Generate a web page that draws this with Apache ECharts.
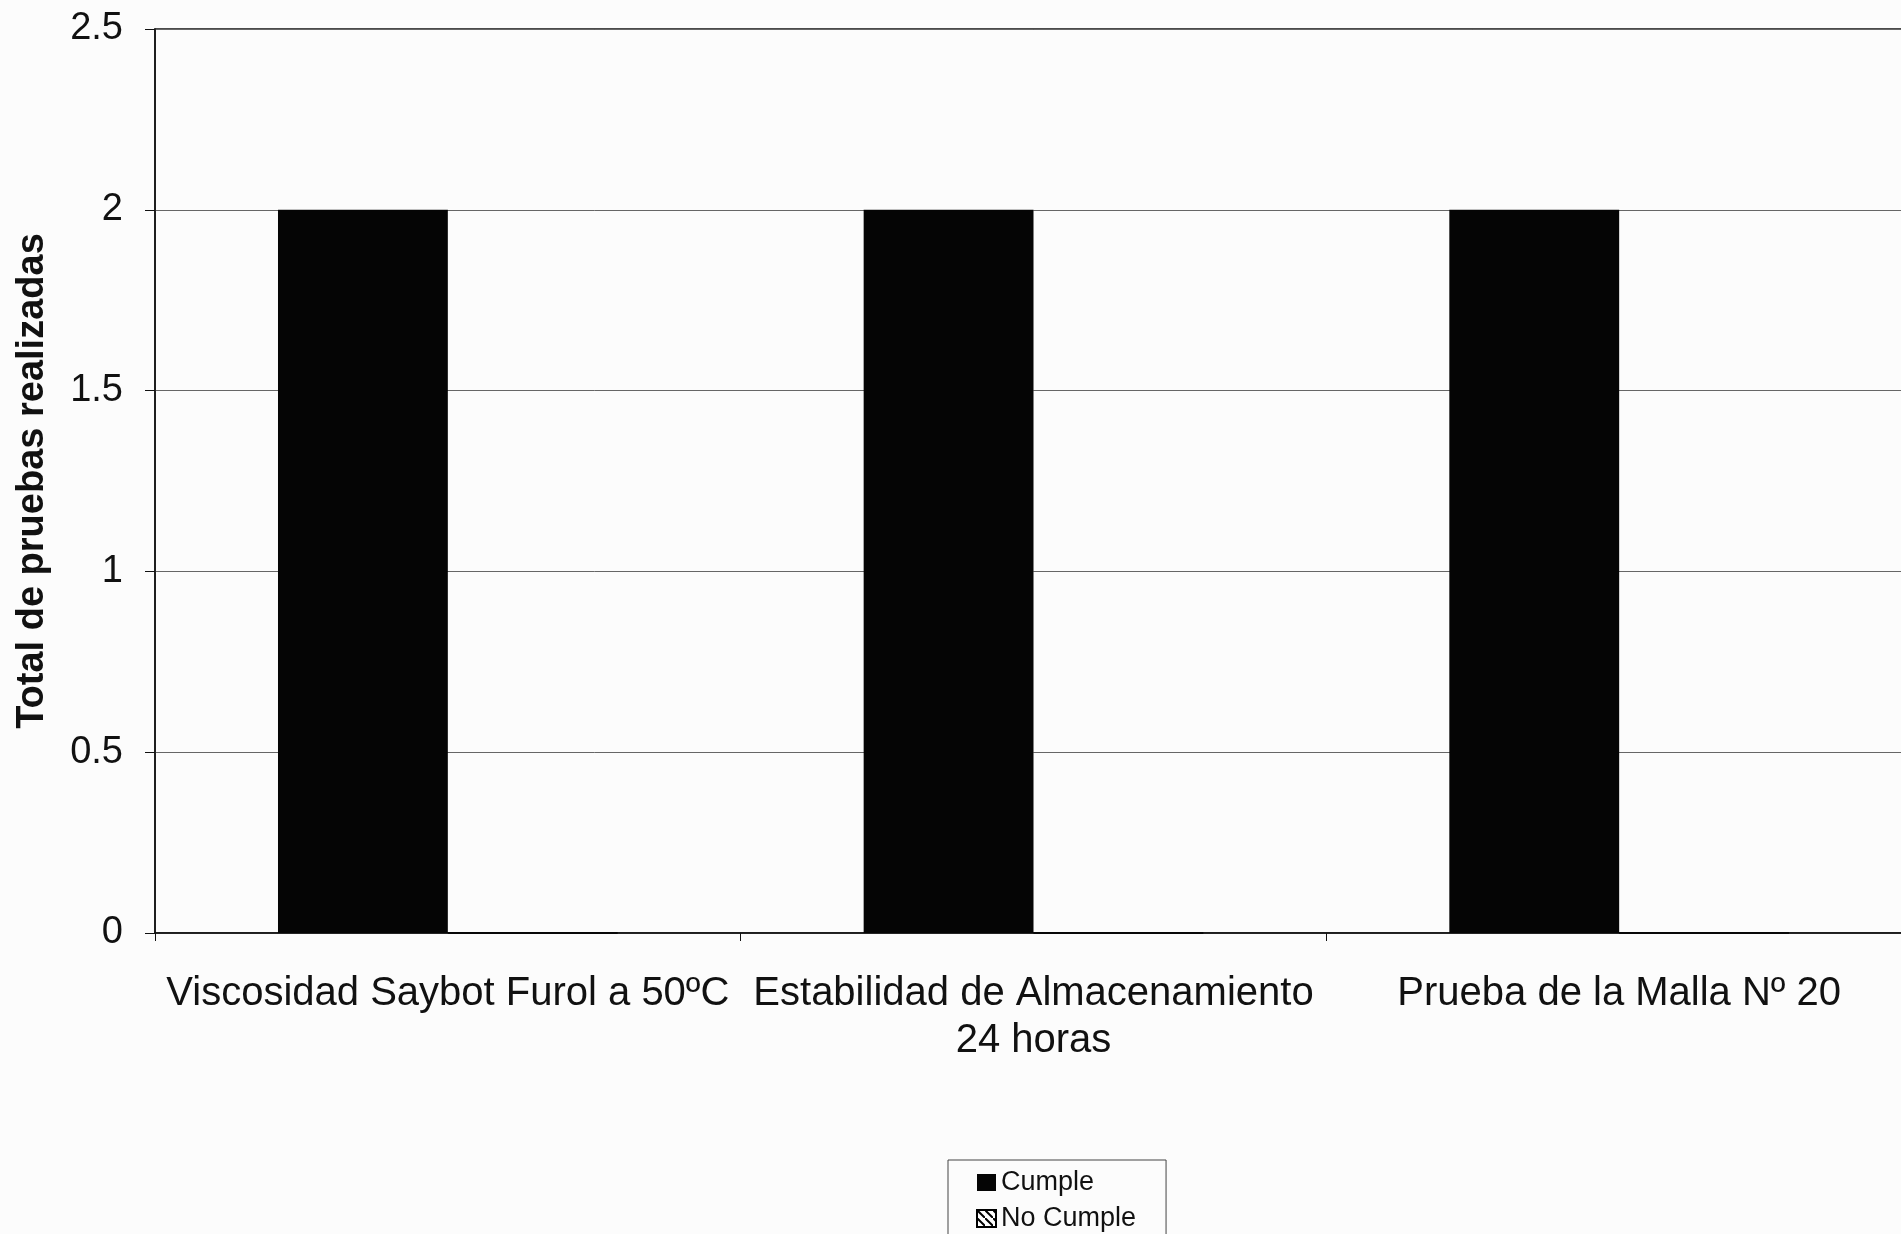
<!DOCTYPE html>
<html>
<head>
<meta charset="utf-8">
<script src="https://cdn.jsdelivr.net/npm/echarts@6/dist/echarts.min.js"></script>
<style>
html,body{margin:0;padding:0;background:#fcfcfc;overflow:hidden;}
#chart{width:1930px;height:1234px;}
</style>
</head>
<body>
<div id="chart"></div>
<script>
const categories = ['Viscosidad Saybot Furol a 50ºC', 'Estabilidad de Almacenamiento\n24 horas', 'Prueba de la Malla Nº 20'];
const cumple = [2, 2, 2];
const noCumple = [0, 0, 0];
const yTicks = [0, 0.5, 1, 1.5, 2, 2.5];

function hatch() {
  const c = document.createElement('canvas');
  c.width = 8; c.height = 8;
  const g = c.getContext('2d');
  g.fillStyle = '#fff'; g.fillRect(0, 0, 8, 8);
  g.strokeStyle = '#000'; g.lineWidth = 2;
  g.beginPath(); g.moveTo(0, 0); g.lineTo(8, 8); g.stroke();
  return c;
}

const chart = echarts.init(document.getElementById('chart'));
const font = 'Liberation Sans, Arial, sans-serif';
chart.setOption({
  backgroundColor: '#fcfcfc',
  animation: false,
  grid: { left: 155, top: 29, right: 18, bottom: 301, show: true, borderColor: '#111', borderWidth: 1.5, backgroundColor: 'transparent' },
  legend: {
    orient: 'vertical', left: 948, top: 1160, height: 120,
    padding: [9, 30, 40, 28],
    borderColor: '#444', borderWidth: 1,
    itemWidth: 19, itemHeight: 17, itemGap: 9,
    icon: 'rect',
    textStyle: { fontFamily: font, fontSize: 27, color: '#111' },
    data: ['Cumple', 'No Cumple']
  },
  xAxis: {
    type: 'category', data: categories,
    axisLine: { lineStyle: { color: '#111', width: 1.5 } },
    axisTick: { show: true, length: 8, lineStyle: { color: '#111' } },
    axisLabel: { fontFamily: font, fontSize: 40, color: '#111', margin: 37, lineHeight: 47, interval: 0 }
  },
  yAxis: {
    type: 'value', min: yTicks[0], max: yTicks[yTicks.length - 1], interval: 0.5,
    name: 'Total de pruebas realizadas', nameLocation: 'middle', nameGap: 103,
    nameTextStyle: { fontFamily: font, fontSize: 38, fontWeight: 'bold', color: '#111' },
    axisLine: { show: true, lineStyle: { color: '#111', width: 1.5 } },
    axisTick: { show: true, length: 10, lineStyle: { color: '#111' } },
    axisLabel: { fontFamily: font, fontSize: 38, color: '#111', margin: 32 },
    splitLine: { lineStyle: { color: '#666', width: 1 } }
  },
  series: [
    { name: 'Cumple', type: 'bar', data: cumple, barGap: '0%', barCategoryGap: '42%',
      itemStyle: { color: '#050505' } },
    { name: 'No Cumple', type: 'bar', data: noCumple,
      itemStyle: { color: { image: hatch(), repeat: 'repeat' }, borderColor: '#000', borderWidth: 1.5 } }
  ]
});
</script>
</body>
</html>
